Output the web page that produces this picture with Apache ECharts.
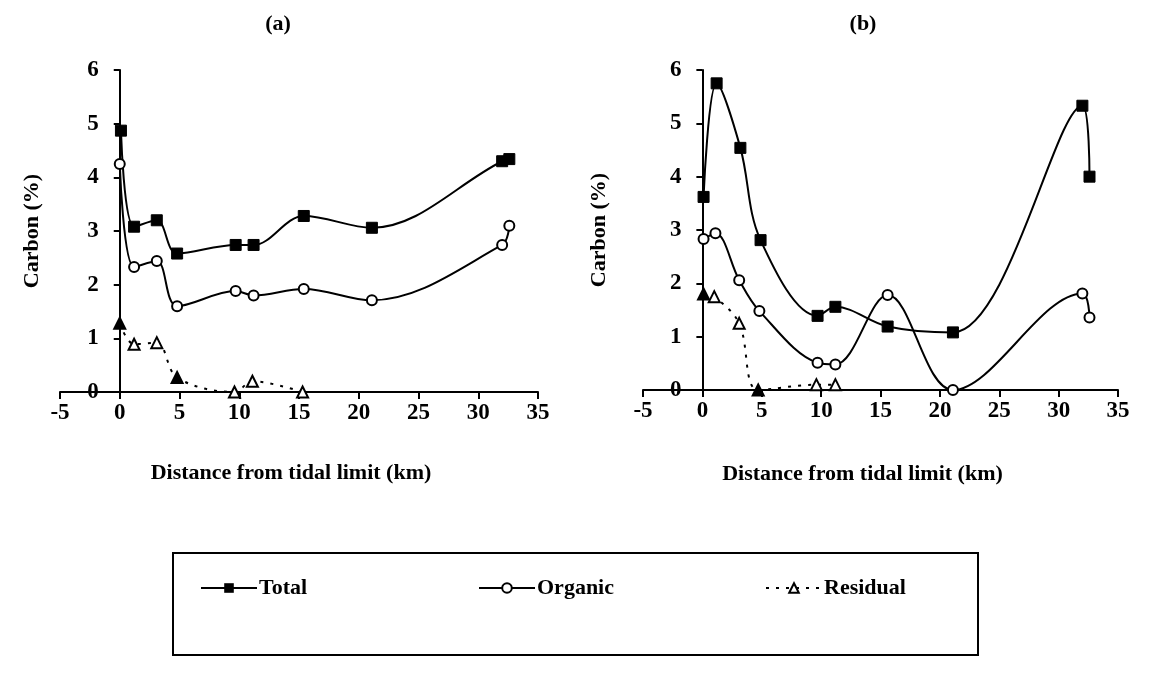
<!DOCTYPE html>
<html>
<head>
<meta charset="utf-8">
<script src="https://cdn.jsdelivr.net/npm/echarts@6/dist/echarts.min.js"></script>
<style>
html,body{margin:0;padding:0;background:#fff;}
#chart{width:1150px;height:698px;}
</style>
</head>
<body>
<div id="chart"></div>
<script>
// ---- Data ----
const panelTitles = ['(a)', '(b)'];
const seriesNames = ['Total', 'Organic', 'Residual'];
const xAxisName = 'Distance from tidal limit (km)';
const yAxisName = 'Carbon (%)';
const xTickMin = -5, xTickMax = 35, xTickStep = 5;
const yTickMin = 0, yTickMax = 6, yTickStep = 1;

// Panel (a)
const distTotalA = [0.1, 1.2, 3.1, 4.8, 9.7, 11.2, 15.4, 21.1, 32.0, 32.6];
const totalA     = [4.87, 3.08, 3.2, 2.58, 2.74, 2.74, 3.28, 3.06, 4.3, 4.34];
const distOrgA   = [0.0, 1.2, 3.1, 4.8, 9.7, 11.2, 15.4, 21.1, 32.0, 32.6];
const organicA   = [4.25, 2.33, 2.44, 1.6, 1.88, 1.8, 1.92, 1.71, 2.74, 3.1];
const distResA   = [0.0, 1.2, 3.1, 4.8, 9.6, 11.1, 15.3];
const residualA  = [1.28, 0.89, 0.92, 0.27, 0.0, 0.2, 0.0];
const resFilledA = [true, false, false, true, false, false, false];

// Panel (b)
const distTotalB = [0.1, 1.2, 3.2, 4.9, 9.7, 11.2, 15.6, 21.1, 32.0, 32.6];
const totalB     = [3.62, 5.75, 4.54, 2.81, 1.39, 1.56, 1.19, 1.08, 5.33, 4.0];
const distOrgB   = [0.1, 1.1, 3.1, 4.8, 9.7, 11.2, 15.6, 21.1, 32.0, 32.6];
const organicB   = [2.83, 2.94, 2.06, 1.48, 0.51, 0.48, 1.78, 0.0, 1.81, 1.36];
const distResB   = [0.1, 1.0, 3.1, 4.7, 9.6, 11.2];
const residualB  = [1.8, 1.75, 1.25, 0.0, 0.1, 0.1];
const resFilledB = [true, false, false, true, false, false];

// ---- Build chart ----
const FONT = '"Liberation Serif", "Times New Roman", serif';
const pair = (xs, ys) => xs.map((x, i) => [x, ys[i]]);
const pairFilled = (xs, ys, f) => xs.map((x, i) => ({
  value: [x, ys[i]],
  itemStyle: f[i] ? { color: '#000' } : undefined
}));

const grids = [
  { left: 60, width: 478, top: 70, height: 322 },
  { left: 643, width: 475, top: 70, height: 320 }
];
const yNameGaps = [76, 92];
const xNameGaps = [70, 73];
const xNamePads = [[0, 16, 0, 0], [0, 36, 0, 0]];

function xAxisCfg(gi) {
  return {
    gridIndex: gi, type: 'value', min: xTickMin, max: xTickMax, interval: xTickStep,
    name: xAxisName, nameLocation: 'middle', nameGap: xNameGaps[gi],
    nameTextStyle: { fontFamily: FONT, fontWeight: 'bold', fontSize: 22, color: '#000', padding: xNamePads[gi] },
    axisLine: { show: true, onZero: false, lineStyle: { color: '#000', width: 2 } },
    axisTick: { show: true, inside: false, length: 7, lineStyle: { color: '#000', width: 2 } },
    axisLabel: { fontFamily: FONT, fontWeight: 'bold', fontSize: 23, color: '#000', margin: 10 },
    splitLine: { show: false }
  };
}
function yAxisCfg(gi) {
  // place the vertical axis at x = 0 of the horizontal axis
  const off = -grids[gi].width * (0 - xTickMin) / (xTickMax - xTickMin);
  return {
    gridIndex: gi, type: 'value', min: yTickMin, max: yTickMax, interval: yTickStep,
    position: 'left', offset: off,
    name: yAxisName, nameLocation: 'middle', nameGap: yNameGaps[gi], nameRotate: 90,
    nameTextStyle: { fontFamily: FONT, fontWeight: 'bold', fontSize: 22, color: '#000' },
    axisLine: { show: true, onZero: false, lineStyle: { color: '#000', width: 2 } },
    axisTick: { show: true, inside: false, length: 6, lineStyle: { color: '#000', width: 2 } },
    axisLabel: { fontFamily: FONT, fontWeight: 'bold', fontSize: 23, color: '#000', margin: 21 },
    splitLine: { show: false }
  };
}

function panelSeries(gi, dT, vT, dO, vO, dR, vR, fR) {
  return [
    {
      name: seriesNames[0], type: 'line', xAxisIndex: gi, yAxisIndex: gi,
      data: pair(dT, vT), smooth: 0.35, clip: false,
      symbol: 'rect', symbolSize: 11,
      lineStyle: { color: '#000', width: 2 },
      itemStyle: { color: '#000', borderColor: '#000' }
    },
    {
      name: seriesNames[1], type: 'line', xAxisIndex: gi, yAxisIndex: gi,
      data: pair(dO, vO), smooth: 0.35, clip: false,
      symbol: 'circle', symbolSize: 10, showAllSymbol: true,
      lineStyle: { color: '#000', width: 2 },
      itemStyle: { color: '#fff', borderColor: '#000', borderWidth: 2 }
    },
    {
      name: seriesNames[2], type: 'line', xAxisIndex: gi, yAxisIndex: gi,
      data: pairFilled(dR, vR, fR), smooth: 0.35, clip: false,
      symbol: 'triangle', symbolSize: 11,
      lineStyle: { color: '#000', width: 2, type: [3, 7] },
      itemStyle: { color: '#fff', borderColor: '#000', borderWidth: 2 }
    }
  ];
}

function legendCfg(name, left) {
  return {
    data: [name], left: left, top: 572, itemWidth: 56, itemHeight: 12, itemGap: 0,
    selectedMode: false,
    textStyle: { fontFamily: FONT, fontWeight: 'bold', fontSize: 22, color: '#000', padding: [0, 0, 0, -3] }
  };
}

const chart = echarts.init(document.getElementById('chart'), null, { renderer: 'canvas' });
chart.setOption({
  backgroundColor: '#fff',
  animation: false,
  title: [
    { text: panelTitles[0], left: 273, top: 8, textAlign: 'center',
      textStyle: { fontFamily: FONT, fontWeight: 'bold', fontSize: 22, color: '#000' } },
    { text: panelTitles[1], left: 858, top: 8, textAlign: 'center',
      textStyle: { fontFamily: FONT, fontWeight: 'bold', fontSize: 22, color: '#000' } }
  ],
  grid: grids.map(g => Object.assign({ containLabel: false, outerBoundsMode: 'none' }, g)),
  xAxis: [xAxisCfg(0), xAxisCfg(1)],
  yAxis: [yAxisCfg(0), yAxisCfg(1)],
  legend: [legendCfg(seriesNames[0], 195), legendCfg(seriesNames[1], 473), legendCfg(seriesNames[2], 760)],
  graphic: [
    { type: 'rect', shape: { x: 173, y: 553, width: 805, height: 102 },
      style: { fill: null, stroke: '#000', lineWidth: 2 }, silent: true, z: -1 }
  ],
  series: [].concat(
    panelSeries(0, distTotalA, totalA, distOrgA, organicA, distResA, residualA, resFilledA),
    panelSeries(1, distTotalB, totalB, distOrgB, organicB, distResB, residualB, resFilledB)
  )
});
</script>
</body>
</html>
